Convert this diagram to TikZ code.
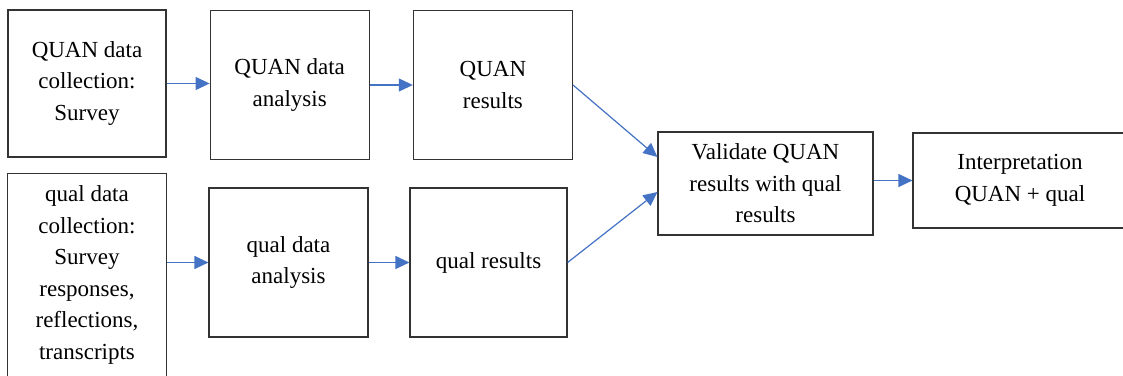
\documentclass[tikz,border=0pt]{standalone}
\usepackage{fontspec}
\setmainfont{Liberation Serif}
\usetikzlibrary{positioning,arrows.meta}
\definecolor{flowblue}{HTML}{4472C4}
\definecolor{boxline}{HTML}{333333}
\tikzset{
  stage/.style  = {draw=boxline, line width=0.6pt, align=center,
                   minimum width=79.5pt, minimum height=74.5pt,
                   font=\fontsize{11.5}{15.75}\selectfont, inner sep=2pt},
  source/.style = {stage, minimum height=102pt},
  merge/.style  = {stage, minimum width=107.5pt, minimum height=51.5pt},
  flow/.style   = {-{Triangle[length=7pt,width=6.5pt]}, draw=flowblue, line width=0.6pt}
}
\begin{document}
\begin{tikzpicture}[x=0.5pt, y=-0.5pt, node distance=7.5pt and 21.5pt]

  % frame of the picture (pixels of the original)
  \clip (0,0) rectangle (1123,375);
  \fill[white] (0,0) rectangle (1123,375);

  % QUAN strand
  \node[stage, minimum width=79pt, minimum height=73.5pt] at (87,83.5) (QNcoll) {QUAN data\\collection:\\Survey};
  \node[stage, right=of QNcoll, yshift=-0.75pt] (QNana) {QUAN data\\analysis};
  \node[stage, right=of QNana]  (QNres) {QUAN\\results};

  % qual strand
  \node[source, below=of QNcoll] (QLcoll) {qual data\\collection:\\Survey\\responses,\\reflections,\\transcripts};
  \node[stage] at (288.5,262.5) (QLana) {qual data\\analysis};
  \node[stage, minimum width=78.5pt] at (488.5,262.5) (QLres) {qual results};

  % merging and interpretation
  \node[merge] at (765.5,183.5) (valid) {Validate QUAN\\results with qual\\results};
  \node[merge, minimum width=107pt, minimum height=47.5pt] at (1020,180.5) (interp) {Interpretation\\QUAN + qual};

  % arrows
  \draw[flow] (QNcoll) -- (QNana.west |- QNcoll);
  \draw[flow] (QNana) -- (QNres);
  \draw[flow] (QLcoll.east |- QLana) -- (QLana);
  \draw[flow] (QLana) -- (QLres);
  \draw[flow] (QNres.east) -- ([yshift=13.25pt]valid.west);
  \draw[flow] (QLres.east) -- ([yshift=-4.25pt]valid.west);
  \draw[flow] (valid.east |- interp) -- (interp);

\end{tikzpicture}
\end{document}
